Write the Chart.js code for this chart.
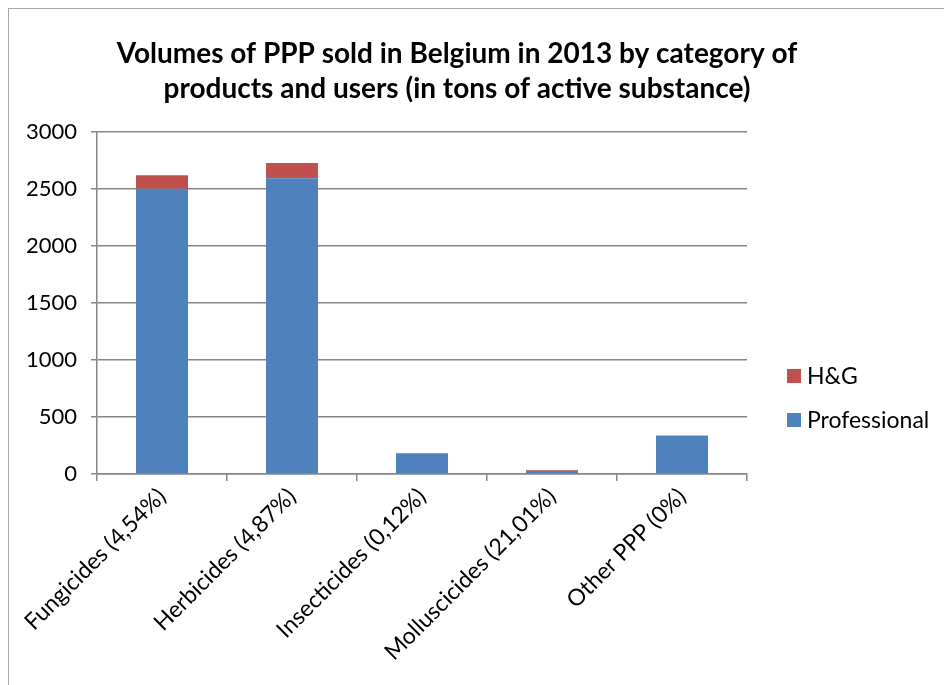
<!DOCTYPE html>
<html>
<head>
<meta charset="utf-8">
<script src="https://cdn.jsdelivr.net/npm/chart.js@4"></script>
<style>
  html, body { margin: 0; padding: 0; background: #fff; }
  #wrap { position: relative; width: 944px; height: 685px; overflow: hidden; }
  #frame { position: absolute; left: 8px; top: 8px; width: 1000px; height: 1000px; border: 1px solid #a6a6a6; }
  canvas { position: absolute; left: 0; top: 0; }
</style>
</head>
<body>
<div id="wrap">
  <div id="frame"></div>
  <canvas id="chart" width="944" height="685"></canvas>
</div>
<script>
const categories = [
  'Fungicides (4,54%)',
  'Herbicides (4,87%)',
  'Insecticides (0,12%)',
  'Molluscicides (21,01%)',
  'Other PPP (0%)'
];
const professional = [2502, 2594, 182, 27.6, 337];
const homeGarden = [119, 133, 0.2, 7.4, 0];
const yTicks = [0, 500, 1000, 1500, 2000, 2500, 3000];

const FONT = 'Lato, "Open Sans", sans-serif';
const GRID = '#868686';

// legend drawn on the right, top entry = last stacked series
const sideLegend = {
  id: 'sideLegend',
  afterDraw(chart) {
    const c = chart.ctx;
    const sets = chart.data.datasets.slice().reverse();
    const x = 787, y0 = 376, step = 44, box = 14;
    c.save();
    c.font = '23px ' + FONT;
    c.textBaseline = 'middle';
    c.textAlign = 'left';
    sets.forEach((ds, i) => {
      const y = y0 + i * step;
      c.fillStyle = ds.backgroundColor;
      c.fillRect(x, y - box / 2, box, box);
      c.fillStyle = '#000';
      c.fillText(ds.label, x + box + 6, y + 1);
    });
    c.restore();
  }
};

const ctx = document.getElementById('chart').getContext('2d');

new Chart(ctx, {
  type: 'bar',
  data: {
    labels: categories,
    datasets: [
      {
        label: 'Professional',
        data: professional,
        backgroundColor: '#4F81BD',
        categoryPercentage: 0.4,
        barPercentage: 1
      },
      {
        label: 'H&G',
        data: homeGarden,
        backgroundColor: '#C0504D',
        categoryPercentage: 0.4,
        barPercentage: 1
      }
    ]
  },
  plugins: [sideLegend],
  options: {
    responsive: false,
    animation: false,
    layout: {
      padding: { left: 0, right: 30, top: 0, bottom: 4 }
    },
    plugins: {
      title: {
        display: true,
        text: [
          'Volumes of PPP sold in Belgium in 2013 by category of',
          'products and users (in tons of active substance)'
        ],
        color: '#000',
        font: { family: FONT, size: 28, weight: 'bold', lineHeight: 1.25 },
        padding: { top: 36, bottom: 26 }
      },
      legend: { display: false },
      tooltip: { enabled: false }
    },
    scales: {
      x: {
        stacked: true,
        afterFit(scale) { scale.height = 207; },
        grid: {
          drawOnChartArea: false,
          drawTicks: true,
          tickLength: 7,
          color: GRID,
          lineWidth: 1.5
        },
        border: { display: true, color: GRID, width: 1.5 },
        ticks: {
          color: '#000',
          font: { family: FONT, size: 23 },
          minRotation: 45,
          maxRotation: 45,
          padding: 2
        }
      },
      y: {
        stacked: true,
        min: 0,
        max: 3000,
        afterFit(scale) { scale.width = 97; },
        afterBuildTicks(scale) { scale.ticks = yTicks.map(v => ({ value: v })); },
        grid: {
          color: GRID,
          lineWidth: 1.5,
          tickLength: 6
        },
        border: { display: true, color: GRID, width: 1.5 },
        ticks: {
          color: '#000',
          font: { family: FONT, size: 22 },
          padding: 14,
          callback: v => String(v)
        }
      },
      // empty right-hand axis keeping room for the legend
      side: {
        position: 'right',
        afterFit(scale) { scale.width = 167; },
        grid: { display: false },
        border: { display: false },
        ticks: { display: false }
      }
    }
  }
});
</script>
</body>
</html>
